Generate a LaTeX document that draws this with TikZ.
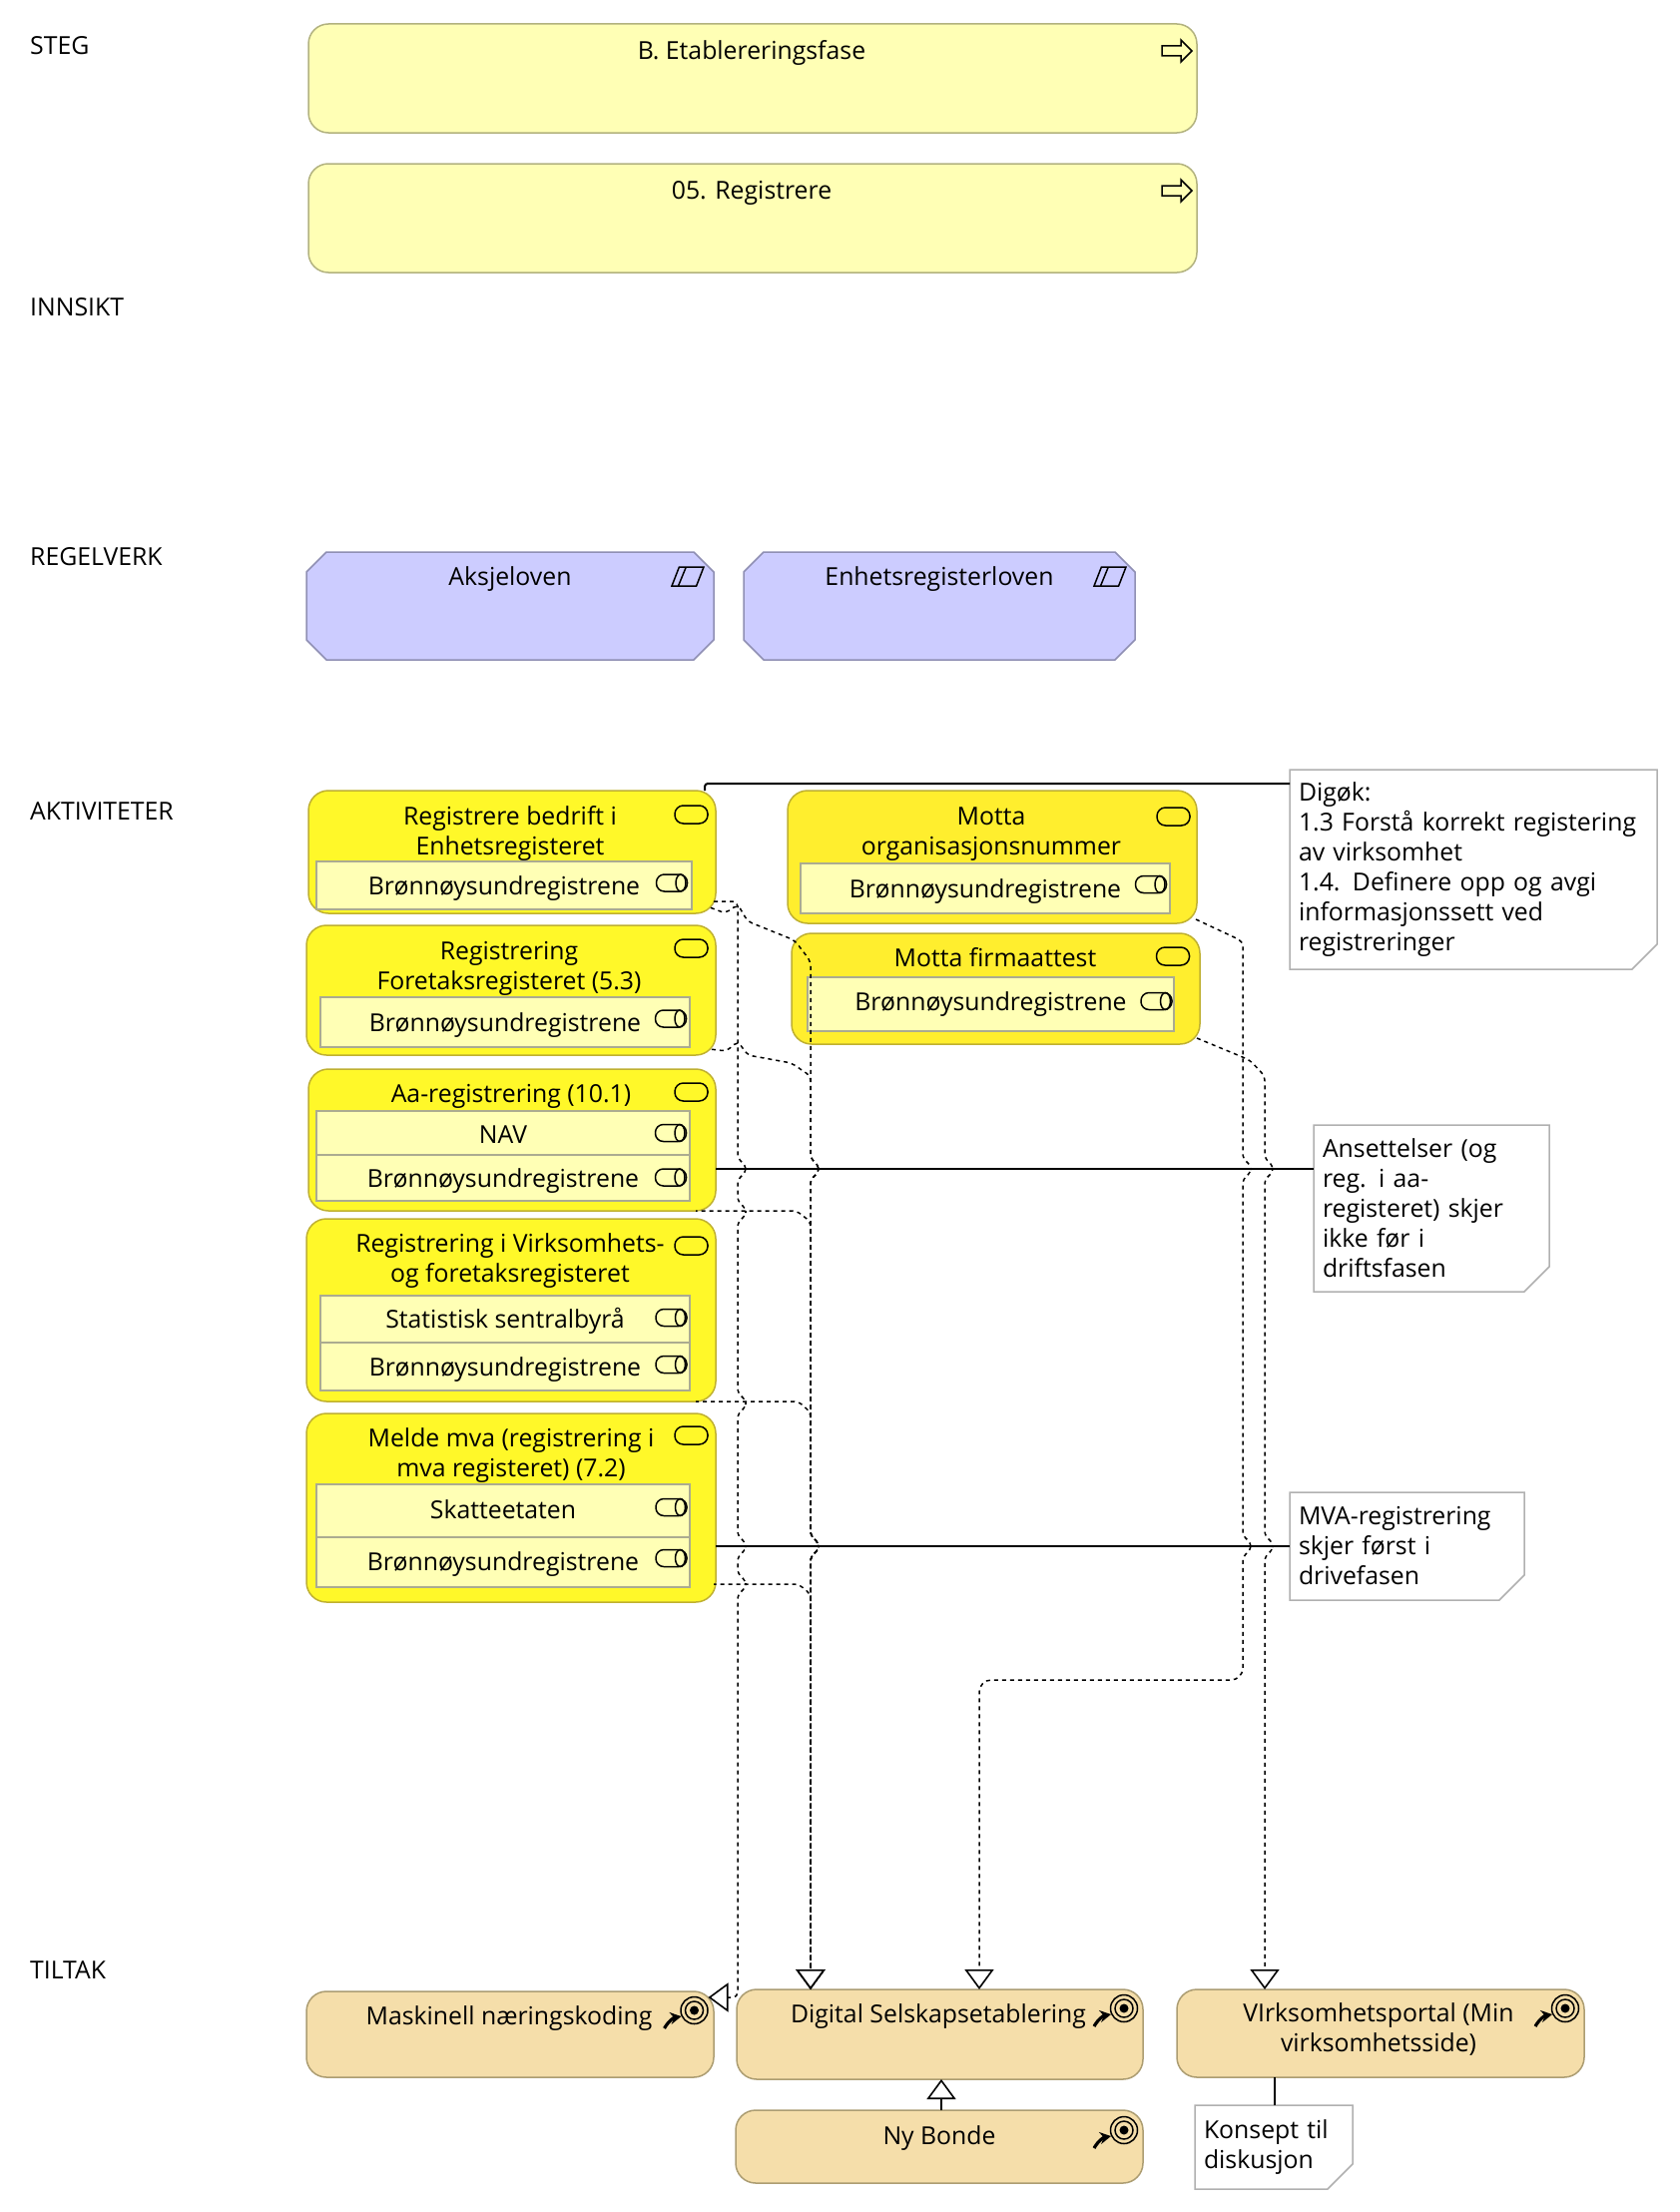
\documentclass[tikz,border=0pt]{standalone}
\usepackage{fontspec}
\setmainfont{Open Sans}
\usepackage{xcolor}
\usetikzlibrary{positioning,arrows.meta,calc}

\definecolor{stepfill}{HTML}{FFFFB5}
\definecolor{stepline}{HTML}{B2B27F}
\definecolor{lawfill}{HTML}{CCCCFF}
\definecolor{lawline}{HTML}{8F8FB3}
\definecolor{actfill}{HTML}{FFF829}
\definecolor{actfillb}{HTML}{FFEE2E}
\definecolor{actline}{HTML}{BFB030}
\definecolor{rolefill}{HTML}{FFFFB5}
\definecolor{roleline}{HTML}{ABAB90}
\definecolor{goalfill}{HTML}{F5DEAA}
\definecolor{goalline}{HTML}{AC9D72}
\definecolor{noteline}{HTML}{B0B0B0}

% a small jump of a dashed line over a crossing line
\newcommand{\hop}[2]{-- (#1,#2-10) -- (#1+8,#2-4) -- (#1+8,#2+4) -- (#1,#2+10)}
% outline of a note with one folded corner
\newcommand{\noteframe}[1]{\draw[edge] (#1.north west) -- (#1.north east) -- ([yshift=25pt]#1.south east) -- ([xshift=-25pt]#1.south east) -- (#1.south west) -- cycle;}
% outline of a law, all corners cut
\newcommand{\lawframe}[1]{\draw[lawedge] ([xshift=20pt]#1.north west) -- ([xshift=-20pt]#1.north east) -- ([yshift=-20pt]#1.north east) -- ([yshift=20pt]#1.south east) -- ([xshift=-20pt]#1.south east) -- ([xshift=20pt]#1.south west) -- ([yshift=20pt]#1.south west) -- ([yshift=-20pt]#1.north west) -- cycle;}

\begin{document}
\begin{tikzpicture}[
    x=1pt, y=-1pt,
    font=\fontsize{24.8}{30}\selectfont,
    lane/.style={anchor=west, inner sep=0pt},
    lbl/.style={align=center, inner sep=0pt},
    box/.style={anchor=north west, inner sep=0pt, outer sep=0pt, line width=1.5pt},
    stepbox/.style={box, rectangle, rounded corners=20pt, draw=stepline, fill=stepfill},
    lawbox/.style={box, rectangle},
    lawedge/.style={draw=lawline, fill=lawfill, line width=1.5pt},
    act/.style={box, rectangle, rounded corners=20pt, draw=actline, fill=actfill},
    actb/.style={act, fill=actfillb},
    role/.style={box, rectangle, draw=roleline, fill=rolefill, text height=24pt, text depth=6pt},
    goal/.style={box, rectangle, rounded corners=20pt, draw=goalline, fill=goalfill},
    note/.style={anchor=north west, inner xsep=9pt, inner ysep=0pt, outer sep=0pt, align=left},
    edge/.style={draw=noteline, line width=1.5pt},
    assoc/.style={line width=2pt},
    dep/.style={line width=1.5pt, dash pattern=on 4pt off 4pt, rounded corners=5pt},
    gen/.style={-{Triangle[open, fill=white, length=20pt, width=29pt, line width=1.6pt]}},
    stepicon/.pic={\draw[line width=1.5pt] (-15,-5) -- (4,-5) -- (4,-11) -- (15,0) -- (4,11) -- (4,5) -- (-15,5) -- cycle;},
    lawicon/.pic={\draw[line width=1.5pt] (-16,9.5) -- (-8.6,-9.5) -- (16,-9.5) -- (8.6,9.5) -- cycle (-1.7,-9.5) -- (-9.5,9.5);},
    acticon/.pic={\draw[line width=1.5pt, rounded corners=8.5pt] (-16.5,-9) rectangle (16.5,9);},
    roleicon/.pic={\draw[line width=1.5pt, rounded corners=8pt] (-15.5,-8.5) rectangle (15.5,8.5);
        \draw[line width=1.5pt] (9,0) ellipse (5 and 8.5);},
    goalicon/.pic={\draw[line width=1.5pt] (0,0) circle (13.5) (0,0) circle (9);
        \fill (0,0) circle (4.5);
        \draw[line width=3.2pt, -{Stealth[length=11pt, width=12pt]}] (-30,18) to[bend left=25] (-13,6);}
]
\useasboundingbox (0,0) rectangle (1682,2216);

% lanes
\node[lane] (steg) at (30,46) {STEG};
\node[lane] (innsikt) at (30,308) {INNSIKT};
\node[lane] (regelverk) at (30,558) {REGELVERK};
\node[lane] (aktiviteter) at (30,813) {AKTIVITETER};
\node[lane] (tiltak) at (30,1974) {TILTAK};

% steps
\node[stepbox, minimum width=890pt, minimum height=109pt] (fase) at (309,24) {};
\node[lbl] (faset) at (753,53) {B. Etablereringsfase};
\pic at (1179,51) {stepicon};
\node[stepbox, minimum width=890pt, minimum height=109pt] (reg) at (309,164) {};
\node[lbl] (regt) at (753,193) {05. Registrere};
\pic at (1179,191) {stepicon};

% laws
\node[lawbox, minimum width=408pt, minimum height=108pt] (aksje) at (307,553) {};
\lawframe{aksje}
\node[lbl] (aksjet) at (511,580) {Aksjeloven};
\pic at (689,577.5) {lawicon};
\node[lawbox, minimum width=392pt, minimum height=108pt] (enhlov) at (745,553) {};
\lawframe{enhlov}
\node[lbl] (enhlovt) at (941,580) {Enhetsregisterloven};
\pic at (1112,577.5) {lawicon};

% activities, left column
\node[act, minimum width=408pt, minimum height=123pt] (enhet) at (309,792) {};
\node[lbl] (enhett) at (511,835) {Registrere bedrift i\\Enhetsregisteret};
\pic at (692.5,816) {acticon};
\node[role, minimum width=376pt, minimum height=48pt] (enhetr) at (317,863) {Brønnøysundregistrene};
\pic at (673,884.5) {roleicon};

\node[act, minimum width=410pt, minimum height=130pt] (foretak) at (307,927) {};
\node[lbl] (foretakt) at (510,970) {Registrering\\Foretaksregisteret (5.3)};
\pic at (692.5,950) {acticon};
\node[role, minimum width=370pt, minimum height=50pt] (foretakr) at (321,999) {Brønnøysundregistrene};
\pic at (672,1020.5) {roleicon};

\node[act, minimum width=408pt, minimum height=142pt] (aa) at (309,1071) {};
\node[lbl] (aat) at (512,1098) {Aa-registrering (10.1)};
\pic at (692.5,1094) {acticon};
\node[role, text height=27pt, minimum width=374pt, minimum height=44pt] (aar1) at (317,1113) {NAV};
\pic at (672,1135) {roleicon};
\node[role, minimum width=374pt, minimum height=46pt] (aar2) at (317,1157) {Brønnøysundregistrene};
\pic at (672,1179.5) {roleicon};

\node[act, minimum width=410pt, minimum height=183pt] (virk) at (307,1221) {};
\node[lbl] (virkt) at (511,1263) {Registrering i Virksomhets-\\og foretaksregisteret};
\pic at (692.5,1248) {acticon};
\node[role, minimum width=370pt, minimum height=47pt] (virkr1) at (321,1298) {Statistisk sentralbyrå};
\pic at (672.5,1320) {roleicon};
\node[role, minimum width=370pt, minimum height=48pt] (virkr2) at (321,1345) {Brønnøysundregistrene};
\pic at (672.5,1367) {roleicon};

\node[act, minimum width=410pt, minimum height=189pt] (mvab) at (307,1416) {};
\node[lbl] (mvabt) at (512,1458) {Melde mva (registrering i\\mva registeret) (7.2)};
\pic at (692.5,1438) {acticon};
\node[role, text height=22pt, minimum width=374pt, minimum height=53pt] (mvar1) at (317,1487) {Skatteetaten};
\pic at (672.5,1510) {roleicon};
\node[role, text height=22pt, minimum width=374pt, minimum height=50pt] (mvar2) at (317,1540) {Brønnøysundregistrene};
\pic at (672.5,1561) {roleicon};

% activities, right column
\node[actb, minimum width=410pt, minimum height=133pt] (org) at (789,792) {};
\node[lbl] (orgt) at (993,836) {Motta\\organisasjonsnummer};
\pic at (1175.5,818) {acticon};
\node[role, minimum width=370pt, minimum height=50pt] (orgr) at (802,865) {Brønnøysundregistrene};
\pic at (1153,886) {roleicon};

\node[actb, minimum width=409pt, minimum height=111pt] (firma) at (793,935) {};
\node[lbl] (firmat) at (997,959) {Motta firmaattest};
\pic at (1175,958) {acticon};
\node[role, text height=18pt, minimum width=367pt, minimum height=54pt] (firmar) at (809,979) {Brønnøysundregistrene};
\pic at (1158.5,1003) {roleicon};

% measures
\node[goal, minimum width=408pt, minimum height=86pt] (maskin) at (307,1995) {};
\node[lbl] (maskint) at (510,2022) {Maskinell næringskoding};
\pic at (695.5,2014) {goalicon};
\node[goal, minimum width=407pt, minimum height=90pt] (digital) at (738,1993) {};
\node[lbl] (digitalt) at (940,2020) {Digital Selskapsetablering};
\pic at (1126,2012) {goalicon};
\node[goal, minimum width=408pt, minimum height=73pt] (nybonde) at (737,2114) {};
\node[lbl] (nybondet) at (941,2142) {Ny Bonde};
\pic at (1126,2134) {goalicon};
\node[goal, minimum width=408pt, minimum height=88pt] (portal) at (1179,1993) {};
\node[lbl] (portalt) at (1381,2033) {VIrksomhetsportal (Min\\virksomhetsside)};
\pic at (1568,2012) {goalicon};

% notes
\node[note, text width=350pt, minimum height=200pt] (digok) at (1292,771) {Digøk:\\1.3 Forstå korrekt registering\\av virksomhet\\1.4. Definere opp og avgi\\informasjonssett ved\\registreringer};
\noteframe{digok}
\node[note, text width=218pt, minimum height=167pt] (ansett) at (1316,1127) {Ansettelser (og\\reg. i aa-\\registeret) skjer\\ikke før i\\driftsfasen};
\noteframe{ansett}
\node[note, text width=217pt, minimum height=108pt] (mvan) at (1292,1495) {MVA-registrering\\skjer først i\\drivefasen};
\noteframe{mvan}
\node[note, text width=140pt, minimum height=84pt] (konsept) at (1197,2109) {Konsept til\\diskusjon};
\noteframe{konsept}

% plain associations
\draw[assoc, rounded corners=3pt] ([xshift=-11pt]enhet.north east) |- ([yshift=86pt]digok.west);
\draw[assoc] ([yshift=-29pt]aa.east) -- ([yshift=39.5pt]ansett.west);
\draw[assoc] ([yshift=-38.5pt]mvab.east) -- (mvan.west);
\draw[assoc] ([xshift=98pt]portal.south west) -- ([xshift=80pt]konsept.north west);
\draw[assoc, gen] ([xshift=2pt]nybonde.north) -- ([xshift=1.5pt]digital.south);

% realizations into the measures
\draw[dep, gen] ([xshift=-2pt,yshift=12pt]enhet.south east) -- (739,903) \hop{739}{1171} \hop{739}{1214} \hop{739}{1406} \hop{739}{1549} \hop{739}{1587} -- (739,2001) -- ([xshift=-5.5pt,yshift=-6pt]maskin.north east);
\draw[dep, gen, dash phase=7pt] ([xshift=-6pt,yshift=6pt]enhet.south east) -- (727,915) -- (739,906) -- (749,923) -- (796,942) -- (812,963) \hop{812}{1171} \hop{812}{1549} -- ([xshift=-129.5pt]digital.north);
\draw[dep, gen, dash phase=6pt] ([xshift=-6pt,yshift=6pt]foretak.south east) -- (728,1053) -- (739,1043) -- (749,1057) -- (793,1065) -- (812,1078) \hop{812}{1171} \hop{812}{1549} -- ([xshift=-129.5pt]digital.north);
\draw[dep, gen, dash phase=2.3pt] ([xshift=-20pt]aa.south east) -- (798,1213) -- (812,1224) \hop{812}{1549} -- ([xshift=-129.5pt]digital.north);
\draw[dep, gen, dash phase=0.8pt] ([xshift=-20pt]virk.south east) -- (800,1404) -- (812,1415) \hop{812}{1549} -- ([xshift=-129.5pt]digital.north);
\draw[dep, gen, dash phase=1.5pt] ([xshift=-2pt,yshift=18pt]mvab.south east) -- (800,1587) -- (812,1597) -- ([xshift=-129.5pt]digital.north);
\draw[dep, gen] ([xshift=-1pt,yshift=4pt]org.south east) -- (1245,943) \hop{1245}{1171} \hop{1245}{1549} [rounded corners=12pt] -- (1245,1683) -- (981,1683) -- ([xshift=39.5pt]digital.north);
\draw[dep, gen] ([xshift=-3pt,yshift=6pt]firma.south east) -- (1252,1062) -- (1267,1078) \hop{1267}{1171} \hop{1267}{1549} -- ([xshift=-116pt]portal.north);
\end{tikzpicture}
\end{document}
